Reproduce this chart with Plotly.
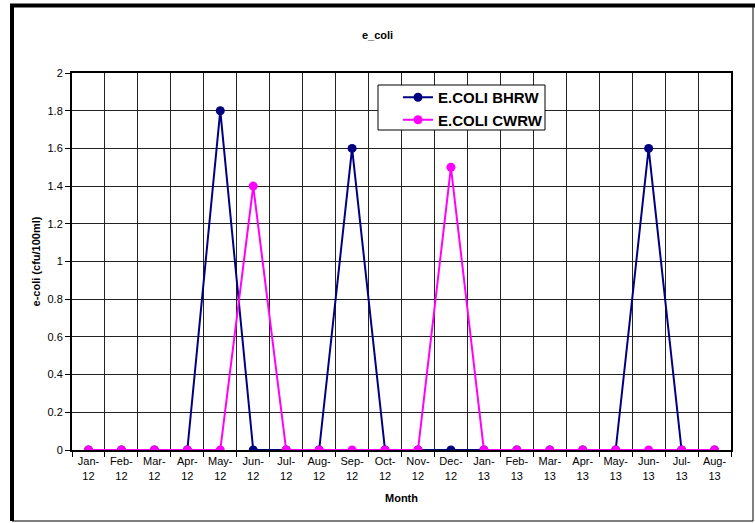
import plotly.graph_objects as go

months = ["Jan-<br>12", "Feb-<br>12", "Mar-<br>12", "Apr-<br>12", "May-<br>12", "Jun-<br>12",
          "Jul-<br>12", "Aug-<br>12", "Sep-<br>12", "Oct-<br>12", "Nov-<br>12", "Dec-<br>12",
          "Jan-<br>13", "Feb-<br>13", "Mar-<br>13", "Apr-<br>13", "May-<br>13", "Jun-<br>13",
          "Jul-<br>13", "Aug-<br>13"]
bhrw = [0, 0, 0, 0, 1.8, 0, 0, 0, 1.6, 0, 0, 0, 0, 0, 0, 0, 0, 1.6, 0, 0]
cwrw = [0, 0, 0, 0, 0, 1.4, 0, 0, 0, 0, 0, 1.5, 0, 0, 0, 0, 0, 0, 0, 0]

FONT = "Arial, 'Liberation Sans', sans-serif"

fig = go.Figure()
fig.add_trace(go.Scatter(x=months, y=bhrw, name="<b>E.COLI BHRW</b>", mode="lines+markers",
                         line=dict(color="#000080", width=2),
                         marker=dict(color="#000080", size=9)))
fig.add_trace(go.Scatter(x=months, y=cwrw, name="<b>E.COLI CWRW</b>", mode="lines+markers",
                         line=dict(color="#FF00FF", width=2),
                         marker=dict(color="#FF00FF", size=9)))

L, R, T, B = 72, 24, 73, 73
W, H = 755, 523
pw, ph = W - L - R, H - T - B

def px(x):
    return (x - L) / pw

def py(y):
    return (H - B - y) / ph

shapes = [
    dict(type="rect", xref="paper", yref="paper", x0=px(12), x1=px(753), y0=py(521), y1=py(5),
         line=dict(color="black", width=1), layer="below"),
    dict(type="line", xref="paper", yref="paper", x0=px(12), x1=px(12), y0=py(521), y1=py(5),
         line=dict(color="black", width=4)),
    dict(type="line", xref="paper", yref="paper", x0=px(10), x1=px(755), y0=py(5.5), y1=py(5.5),
         line=dict(color="black", width=4)),
    # legend frame
    dict(type="rect", xref="paper", yref="paper", x0=px(378), x1=px(545), y0=py(130), y1=py(85),
         line=dict(color="black", width=1), fillcolor="white", layer="above"),
]

fig.update_layout(
    width=W, height=H,
    margin=dict(l=L, r=R, t=T, b=B),
    paper_bgcolor="white", plot_bgcolor="white",
    font=dict(family=FONT, size=11, color="black"),
    title=dict(text="<b>e_coli</b>", x=0.5, xanchor="center", y=1 - 35 / H, yanchor="middle",
               font=dict(size=11)),
    showlegend=True,
    legend=dict(x=px(398), y=py(81), xanchor="left", yanchor="top",
                bgcolor="rgba(0,0,0,0)", borderwidth=0,
                font=dict(size=15, family=FONT), itemwidth=30,
                tracegroupgap=0),
    shapes=shapes,
    xaxis=dict(type="category", tickson="boundaries", showgrid=True, gridcolor="#222",
               gridwidth=1, showline=True, linecolor="black", linewidth=2, mirror=True,
               ticks="outside", ticklen=5, tickcolor="black", tickfont=dict(size=11),
               tickangle=0, automargin=False, range=[-0.5, len(months) - 0.5],
               title=dict(text="<b>Month</b>", font=dict(size=11), standoff=14)),
    yaxis=dict(range=[0, 2], dtick=0.2, showgrid=True, gridcolor="#222", gridwidth=1,
               showline=True, linecolor="black", linewidth=2, mirror=True,
               ticks="outside", ticklen=5, tickcolor="black", tickfont=dict(size=11),
               zeroline=False, automargin=False,
               title=dict(text="<b>e-coli (cfu/100ml)</b>", font=dict(size=11), standoff=5)),
)

fig.write_html("out.html")
